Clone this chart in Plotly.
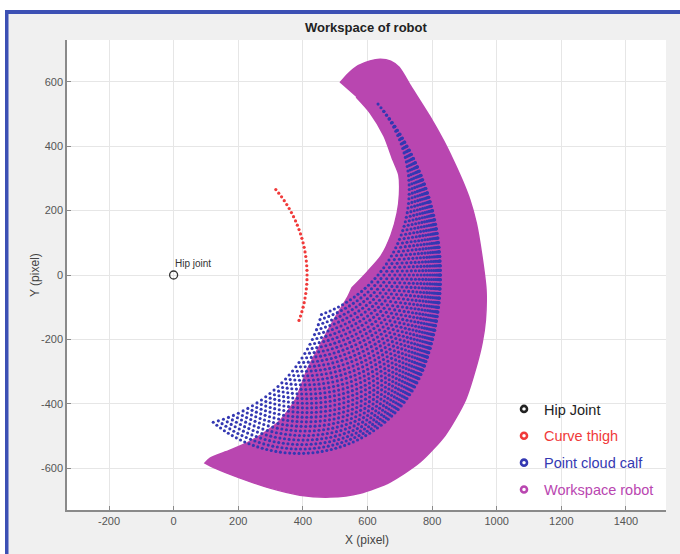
import numpy as np
import plotly.graph_objects as go

# ---- leg model -------------------------------------------------------------
THIGH_LENGTH = 413          # hip -> knee
CALF_LENGTH = 413           # knee -> ankle
hip_angle_range = (-20, 40)     # degrees, thigh sweep
knee_angle_range = (-110, 0)    # degrees, calf relative to thigh
angle_step = 2

hip_joint_x = [0]
hip_joint_y = [0]

# outline of the full robot workspace (clockwise from the upper tip)
workspace_x = [515, 540, 571, 608, 640, 672, 698, 735, 794, 835, 865, 895, 917, 937, 954,
               967, 965, 955, 938, 903, 841, 763, 670, 577, 484, 391, 298, 206, 128, 97, 97,
               113, 159, 227, 283, 330, 376, 413, 453, 499, 539, 552, 552, 598,
               642, 673, 692, 699, 697, 679, 651, 608, 565]
workspace_y = [597, 625, 650, 665, 670, 664, 645, 585, 491, 418, 357, 290, 233, 160, 60,
               -47, -140, -210, -280, -389, -497, -581, -643, -678, -690, -684, -662, -631, -600, -584, -584,
               -569, -550, -522, -488, -451, -389, -295, -218, -134, -68, -40, -40, 8,
               59, 124, 193, 249, 311, 357, 432, 504, 553]

# ---- forward kinematics ----------------------------------------------------
hip_angles = np.deg2rad(np.arange(hip_angle_range[0], hip_angle_range[1] + 1, angle_step))
knee_angles = np.deg2rad(np.arange(knee_angle_range[0], knee_angle_range[1] + 1, angle_step))

knee_x = THIGH_LENGTH * np.cos(hip_angles)
knee_y = THIGH_LENGTH * np.sin(hip_angles)

h, k = np.meshgrid(hip_angles, knee_angles)
ankle_x = (THIGH_LENGTH * np.cos(h) + CALF_LENGTH * np.cos(h + k)).ravel()
ankle_y = (THIGH_LENGTH * np.sin(h) + CALF_LENGTH * np.sin(h + k)).ravel()

# ---- axis ticks ------------------------------------------------------------
x_ticks = [-200, 0, 200, 400, 600, 800, 1000, 1200, 1400]
y_ticks = [-600, -400, -200, 0, 200, 400, 600]

# ---- styling ---------------------------------------------------------------
BLACK = "#222222"
RED = "#f03a3a"
BLUE = "#3438b2"
MAGENTA = "#b946b0"
FONT = "Liberation Sans, Arial, sans-serif"

fig = go.Figure()

fig.add_trace(go.Scatter(
    x=workspace_x, y=workspace_y, fill="toself", fillcolor=MAGENTA,
    mode="lines", line=dict(color=MAGENTA, width=1.5, shape="spline", smoothing=0.7),
    showlegend=False, hoverinfo="skip"))

fig.add_trace(go.Scatter(
    x=ankle_x, y=ankle_y, mode="markers",
    marker=dict(color=BLUE, size=3.1, line=dict(width=0)),
    showlegend=False, hoverinfo="skip"))

fig.add_trace(go.Scatter(
    x=knee_x, y=knee_y, mode="markers",
    marker=dict(color=RED, size=3.2, line=dict(width=0)),
    showlegend=False, hoverinfo="skip"))

fig.add_trace(go.Scatter(
    x=hip_joint_x, y=hip_joint_y, mode="markers",
    marker=dict(symbol="circle-open", color="#333333", size=8, line=dict(width=1.3)),
    showlegend=False, hoverinfo="skip"))

# legend entries
legend_items = [("Hip Joint", BLACK), ("Curve thigh", RED),
                ("Point cloud calf", BLUE), ("Workspace robot", MAGENTA)]
for i, (label, color) in enumerate(legend_items):
    fig.add_trace(go.Scatter(
        x=[None], y=[None], mode="markers",
        name=f"<span style='color:{color}'>{label}</span>",
        legendgroup=f"g{i}",
        marker=dict(symbol="circle-open", color=color, size=6, line=dict(width=2.6))))

# plot area in pixels: x 67..666, y 40..510
L, R, T, B = 67, 666, 40, 510
W, H = 680, 554


def px(xp):
    return (xp - L) / (R - L)


def py(yp):
    return (B - yp) / (B - T)


shapes = [
    # legend backing box
    dict(type="rect", xref="paper", yref="paper", x0=px(509), x1=px(R), y0=py(505), y1=py(396),
         fillcolor="white", line=dict(width=0), layer="below"),
    # outer white margin and blue window frame
    dict(type="rect", xref="paper", yref="paper", x0=px(0), x1=px(W), y0=py(10), y1=py(0),
         fillcolor="white", line=dict(width=0), layer="below"),
    dict(type="rect", xref="paper", yref="paper", x0=px(0), x1=px(5), y0=py(H), y1=py(0),
         fillcolor="white", line=dict(width=0), layer="below"),
    dict(type="rect", xref="paper", yref="paper", x0=px(5), x1=px(W), y0=py(14), y1=py(10),
         fillcolor="#3c50b4", line=dict(width=0), layer="below"),
    dict(type="rect", xref="paper", yref="paper", x0=px(5), x1=px(8.5), y0=py(H), y1=py(10),
         fillcolor="#3c50b4", line=dict(width=0), layer="below"),
]

annotations = [
    dict(text="<b>Workspace of robot</b>", xref="paper", yref="paper",
         x=px((L + R) / 2), y=py(28), xanchor="center", yanchor="middle",
         showarrow=False, font=dict(family=FONT, size=13, color="#222222")),
    dict(text="X (pixel)", xref="paper", yref="paper",
         x=px((L + R) / 2), y=py(540), xanchor="center", yanchor="middle",
         showarrow=False, font=dict(family=FONT, size=12, color="#444444")),
    dict(text="Y (pixel)", xref="paper", yref="paper", textangle=-90,
         x=px(35), y=py(275), xanchor="center", yanchor="middle",
         showarrow=False, font=dict(family=FONT, size=12, color="#444444")),
    dict(text="Hip joint", x=0, y=0, xanchor="left", yanchor="bottom",
         xshift=-1, yshift=4, showarrow=False,
         font=dict(family=FONT, size=10, color="#333333")),
]

axis_common = dict(
    showline=True, linecolor="#8a8a8a", linewidth=1.5, mirror=False,
    ticks="inside", ticklen=4, tickcolor="#8a8a8a", tickwidth=1,
    showgrid=True, gridcolor="#e6e6e6", gridwidth=1, zeroline=False,
    tickfont=dict(family=FONT, size=11, color="#555555"),
)

fig.update_layout(
    width=W, height=H,
    margin=dict(l=L, r=W - R, t=T, b=H - B, pad=0),
    paper_bgcolor="#f0f0f0", plot_bgcolor="white",
    xaxis=dict(range=[-330, 1524], tickvals=x_ticks, ticktext=[str(v) for v in x_ticks],
               **axis_common),
    yaxis=dict(range=[-730, 730], tickvals=y_ticks, ticktext=[str(v) for v in y_ticks],
               **axis_common),
    shapes=shapes, annotations=annotations,
    showlegend=True,
    legend=dict(x=px(504), xanchor="left", y=py(506), yanchor="bottom",
                bgcolor="rgba(255,255,255,0)", borderwidth=0, tracegroupgap=5,
                font=dict(family=FONT, size=14.5), itemsizing="trace"),
)

fig.write_html("out.html")
